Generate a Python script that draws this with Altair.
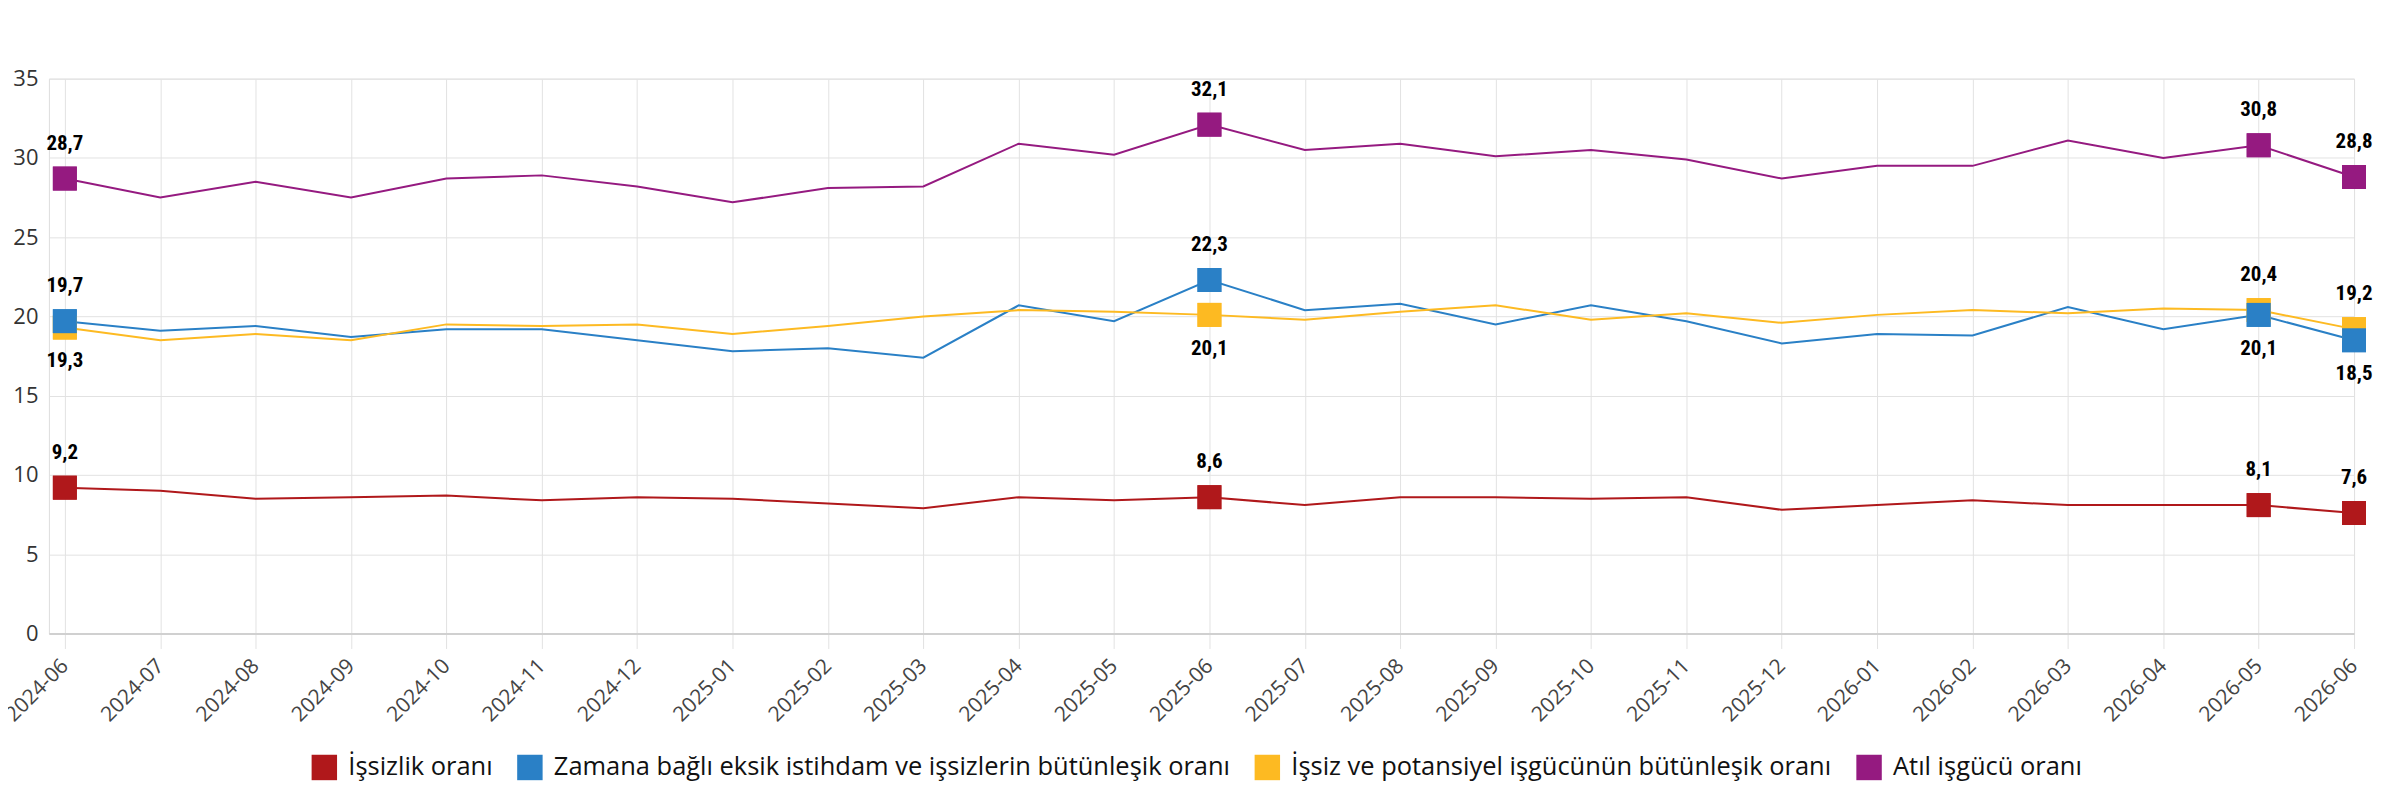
import json
import altair as alt
import pandas as pd

months = ["2024-06", "2024-07", "2024-08", "2024-09", "2024-10", "2024-11", "2024-12",
          "2025-01", "2025-02", "2025-03", "2025-04", "2025-05", "2025-06", "2025-07",
          "2025-08", "2025-09", "2025-10", "2025-11", "2025-12", "2026-01", "2026-02",
          "2026-03", "2026-04", "2026-05", "2026-06"]

series_names = ["İşsizlik oranı",
                "Zamana bağlı eksik istihdam ve işsizlerin bütünleşik oranı",
                "İşsiz ve potansiyel işgücünün bütünleşik oranı",
                "Atıl işgücü oranı"]
colors = ["#B0181B", "#2A80C6", "#FDBA22", "#951A80"]

issizlik = [9.2, 9.0, 8.5, 8.6, 8.7, 8.4, 8.6, 8.5, 8.2, 7.9, 8.6, 8.4, 8.6, 8.1,
            8.6, 8.6, 8.5, 8.6, 7.8, 8.1, 8.4, 8.1, 8.1, 8.1, 7.6]
zamana = [19.7, 19.1, 19.4, 18.7, 19.2, 19.2, 18.5, 17.8, 18.0, 17.4, 20.7, 19.7, 22.3, 20.4,
          20.8, 19.5, 20.7, 19.7, 18.3, 18.9, 18.8, 20.6, 19.2, 20.1, 18.5]
potansiyel = [19.3, 18.5, 18.9, 18.5, 19.5, 19.4, 19.5, 18.9, 19.4, 20.0, 20.4, 20.3, 20.1, 19.8,
              20.3, 20.7, 19.8, 20.2, 19.6, 20.1, 20.4, 20.2, 20.5, 20.4, 19.2]
atil = [28.7, 27.5, 28.5, 27.5, 28.7, 28.9, 28.2, 27.2, 28.1, 28.2, 30.9, 30.2, 32.1, 30.5,
        30.9, 30.1, 30.5, 29.9, 28.7, 29.5, 29.5, 31.1, 30.0, 30.8, 28.8]

marked_months = ["2024-06", "2025-06", "2026-05", "2026-06"]

all_series = [issizlik, zamana, potansiyel, atil]

rows = []
for s_i, (name, vals) in enumerate(zip(series_names, all_series)):
    for m_i, (m, v) in enumerate(zip(months, vals)):
        rows.append({"idx": m_i, "month": m, "series": name, "value": v, "sorder": s_i})
df = pd.DataFrame(rows)

# markers: draw yellow under blue
draw_order = [0, 2, 1, 3]
mrows = []
for s_i in draw_order:
    vals = all_series[s_i]
    for m in marked_months:
        m_i = months.index(m)
        v = vals[m_i]
        above = True
        if s_i in (1, 2):
            other = all_series[3 - s_i][m_i]
            above = v >= other
        mrows.append({"idx": m_i, "series": series_names[s_i], "value": v,
                      "label": f"{v:.1f}".replace(".", ","), "above": above})
mdf = pd.DataFrame(mrows)

color = alt.Color("series:N",
                  scale=alt.Scale(domain=series_names, range=colors),
                  sort=series_names,
                  legend=alt.Legend(title=None, orient="none", direction="horizontal",
                                    legendX=263, legendY=677,
                                    symbolType="square", symbolSize=650, symbolStrokeWidth=0,
                                    labelFontSize=25.5, labelFont="Open Sans", labelColor="#111",
                                    labelOffset=11, columnPadding=24,
                                    labelLimit=1200))

label_expr = json.dumps(months) + "[datum.value]"

x = alt.X("idx:Q",
          scale=alt.Scale(domain=[-0.167, 24], nice=False, zero=False),
          axis=alt.Axis(values=list(range(len(months))), labelExpr=label_expr, labelAngle=-45,
                        labelAlign="right", labelBaseline="middle",
                        title=None, grid=True, gridColor="#e2e2e2", gridWidth=1,
                        ticks=True, tickSize=15, tickColor="#e2e2e2", tickWidth=1,
                        domain=True, domainColor="#d0d0d0", domainWidth=2,
                        labelFontSize=21, labelFont="Open Sans", labelColor="#444",
                        labelPadding=14, labelFlush=False, labelOverlap=False))
y = alt.Y("value:Q",
          scale=alt.Scale(domain=[0, 35], nice=False),
          axis=alt.Axis(values=[0, 5, 10, 15, 20, 25, 30, 35], title=None, ticks=False,
                        domain=False, grid=True, gridColor="#e2e2e2", gridWidth=1,
                        labelFontSize=22, labelFont="Open Sans", labelColor="#333",
                        labelPadding=11))

base_m = alt.Chart(mdf)

under = base_m.mark_point(shape="square", filled=True, size=576, opacity=1).encode(
    x=x, y=y, color=color)

lines = alt.Chart(df).mark_line(strokeWidth=2).encode(
    x=x, y=y, color=color, detail="series:N")

points = base_m.mark_point(shape="square", filled=True, size=576, opacity=1).encode(
    x=x, y=y, color=color)

label_font = "Liberation Sans Narrow, Roboto Condensed, Arial Narrow, sans-serif"
txt_above = base_m.transform_filter("datum.above").mark_text(
    dy=-35, fontSize=21, fontWeight="bold", font=label_font, color="#000",
    baseline="middle", align="center").encode(x=x, y=y, text="label:N")
txt_below = base_m.transform_filter("!datum.above").mark_text(
    dy=34, fontSize=21, fontWeight="bold", font=label_font, color="#000",
    baseline="middle", align="center").encode(x=x, y=y, text="label:N")

chart = alt.layer(under, lines, points, txt_above, txt_below).properties(
    width=2310, height=556,
    padding={"left": 41, "top": 70, "right": 22, "bottom": 158},
    autosize=alt.AutoSizeParams(type="none"),
).configure_view(stroke=None).configure(background="white")

chart.save("out.html", embed_options={"renderer": "svg", "actions": False})
